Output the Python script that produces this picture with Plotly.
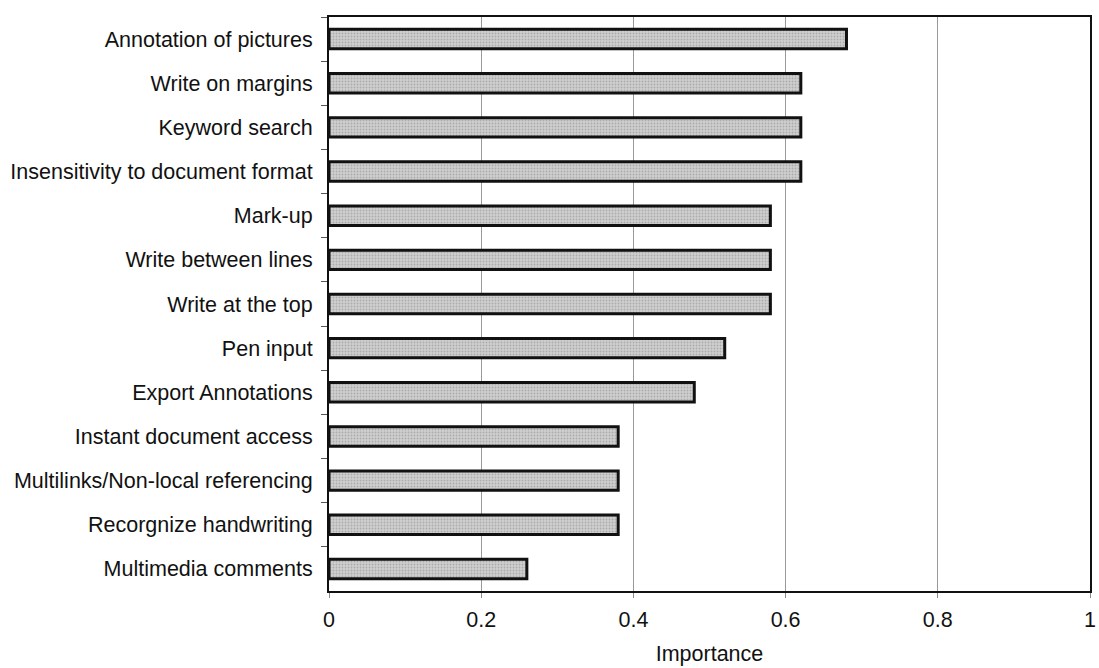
import plotly.graph_objects as go

# Features, listed top to bottom
features = [
    "Annotation of pictures",
    "Write on margins",
    "Keyword search",
    "Insensitivity to document format",
    "Mark-up",
    "Write between lines",
    "Write at the top",
    "Pen input",
    "Export Annotations",
    "Instant document access",
    "Multilinks/Non-local referencing",
    "Recorgnize handwriting",
    "Multimedia comments",
]
importance = [0.68, 0.62, 0.62, 0.62, 0.58, 0.58, 0.58, 0.52, 0.48, 0.38, 0.38, 0.38, 0.26]
x_ticks = [0, 0.2, 0.4, 0.6, 0.8, 1]
x_tick_labels = ["0", "0.2", "0.4", "0.6", "0.8", "1"]

font_family = "Liberation Sans, Arial, sans-serif"

fig = go.Figure(
    go.Bar(
        x=importance,
        y=features,
        orientation="h",
        marker=dict(
            color="#cfcfcf",
            line=dict(color="#111111", width=3),
            pattern=dict(shape=".", fgcolor="#888888", bgcolor="#cfcfcf",
                         size=3, solidity=0.3),
        ),
        hoverinfo="x+y",
    )
)

fig.update_layout(
    width=1099,
    height=668,
    margin=dict(l=329, r=3, t=17, b=77),
    paper_bgcolor="white",
    plot_bgcolor="white",
    bargap=0.56,
    showlegend=False,
    font=dict(family=font_family, size=21.5, color="#111111"),
    xaxis=dict(
        range=[0, 1],
        tickvals=x_ticks,
        ticktext=x_tick_labels,
        showgrid=True,
        gridcolor="#9a9a9a",
        gridwidth=1,
        zeroline=False,
        showline=True,
        linecolor="#111111",
        linewidth=2,
        mirror=True,
        ticks="outside",
        ticklen=5,
        tickcolor="#8a8a8a",
        ticklabelstandoff=3,
        ticklabeloverflow="allow",
        tickfont=dict(size=21.5),
        title=dict(text="Importance", font=dict(size=21.5), standoff=15),
    ),
    yaxis=dict(
        categoryorder="array",
        categoryarray=features,
        autorange="reversed",
        showgrid=False,
        zeroline=False,
        showline=True,
        linecolor="#111111",
        linewidth=2,
        mirror=True,
        ticks="outside",
        tickson="boundaries",
        ticklen=6,
        tickcolor="#555555",
        ticklabelstandoff=10,
        tickfont=dict(size=21.5),
    ),
)

fig.write_html("out.html")
